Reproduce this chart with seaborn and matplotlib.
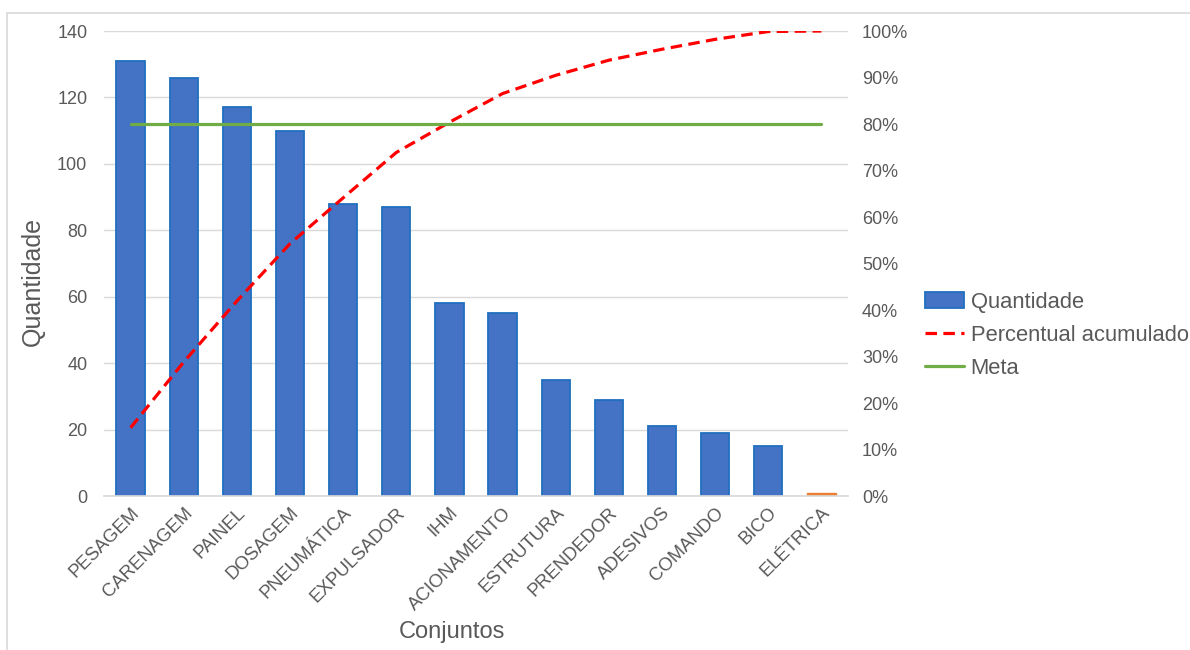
import numpy as np
import pandas as pd
import seaborn as sns
import matplotlib.pyplot as plt
from matplotlib.patches import Patch, Rectangle
from matplotlib.lines import Line2D
from matplotlib.ticker import PercentFormatter

sns.set_theme(style="white")
plt.rcParams["font.family"] = ["Liberation Sans", "DejaVu Sans"]

conjuntos = ["PESAGEM", "CARENAGEM", "PAINEL", "DOSAGEM", "PNEUMÁTICA", "EXPULSADOR",
             "IHM", "ACIONAMENTO", "ESTRUTURA", "PRENDEDOR", "ADESIVOS", "COMANDO",
             "BICO", "ELÉTRICA"]
quantidade = [131, 126, 117, 110, 88, 87, 58, 55, 35, 29, 21, 19, 15, 1]
meta = 0.80

data = pd.DataFrame({"conjunto": conjuntos, "quantidade": quantidade})
data["pos"] = np.arange(len(data))
data["acumulado"] = data["quantidade"].cumsum() / data["quantidade"].sum()
data["meta"] = meta

grey = "#595959"
blue = "#4472C4"
orange = "#ED7D31"
palette = [blue] * (len(data) - 1) + [orange]

fig = plt.figure(figsize=(11.9, 6.5), dpi=100)
fig.patches.append(Rectangle((0.006, -0.05), 1.1, 1.03, transform=fig.transFigure,
                             fill=False, edgecolor="#D9D9D9", linewidth=1.2))
ax = fig.add_axes([0.0874, 0.2369, 0.6252, 0.7154])

sns.barplot(ax=ax, data=data, x="conjunto", y="quantidade", hue="conjunto",
            palette=palette, legend=False, width=0.53, saturation=1)
for i, bar in enumerate(ax.patches):
    if i < len(data) - 1:
        bar.set_edgecolor("#1F6FBF")
        bar.set_linewidth(1.3)
    else:
        bar.set_edgecolor(orange)

ax.set_xlim(-0.5, len(data) - 0.5)
ax.set_ylim(0, 140)
ax.set_yticks(range(0, 141, 20))
ax.yaxis.grid(True, color="#D9D9D9", linewidth=1)
ax.set_axisbelow(True)
for s in ["top", "left", "right"]:
    ax.spines[s].set_visible(False)
ax.spines["bottom"].set_color("#D9D9D9")
ax.tick_params(axis="y", length=0, pad=12, labelsize=13, labelcolor=grey)
ax.tick_params(axis="x", length=0, pad=6, labelsize=13.3, labelcolor=grey)
plt.setp(ax.get_xticklabels(), rotation=45, ha="right", rotation_mode="anchor")
ax.set_ylabel("Quantidade", fontsize=18, color=grey, va="center")
ax.yaxis.set_label_coords(-0.0954, 0.462)
ax.set_xlabel("Conjuntos", fontsize=17, color=grey, va="center")
ax.xaxis.set_label_coords(0.468, -0.292)

ax2 = ax.twinx()
sns.lineplot(ax=ax2, data=data, x="pos", y="acumulado", color="#FF0000",
             linewidth=2.3, dashes=False)
ax2.lines[0].set_dashes((3.6, 2))
sns.lineplot(ax=ax2, data=data, x="pos", y="meta", color="#70AD47", linewidth=2.3)
ax2.set_ylim(0, 1)
ax2.set_yticks(np.arange(0, 1.01, 0.1))
ax2.yaxis.set_major_formatter(PercentFormatter(1, decimals=0))
ax2.tick_params(axis="y", length=0, pad=10, labelsize=13, labelcolor=grey)
ax2.set_ylabel("")
ax2.set_xlabel("")
for s in ax2.spines.values():
    s.set_visible(False)
ax2.grid(False)

handles = [
    Patch(facecolor=blue, edgecolor="#1F6FBF", linewidth=1.3),
    Line2D([], [], color="#FF0000", linewidth=2.3, dashes=(3.6, 2)),
    Line2D([], [], color="#70AD47", linewidth=2.3),
]
labels = ["Quantidade", "Percentual acumulado", "Meta"]
leg = fig.legend(handles, labels, loc="center left", bbox_to_anchor=(0.777, 0.484),
                 frameon=False, fontsize=15.8, handlelength=1.8, handleheight=0.7,
                 handletextpad=0.3, labelspacing=0.55, borderpad=0, borderaxespad=0)
for t in leg.get_texts():
    t.set_color(grey)

fig.savefig("out.png", dpi=100)
